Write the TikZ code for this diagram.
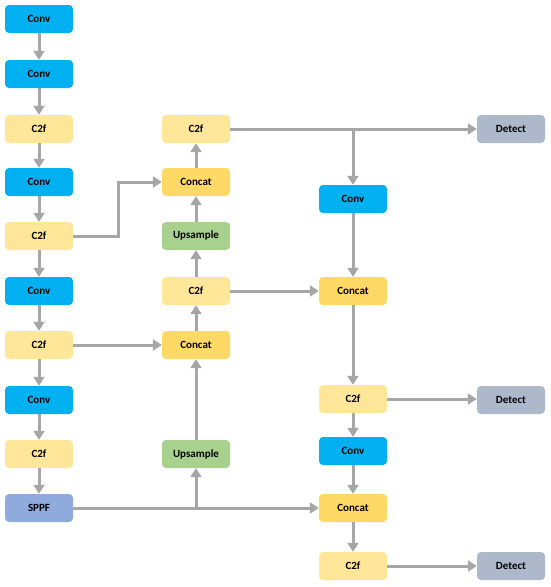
\documentclass[tikz,border=0pt]{standalone}
\usepackage{fontspec}
\setmainfont{Carlito}
\usetikzlibrary{arrows.meta}
\definecolor{convc}{HTML}{00B0F0}
\definecolor{cfc}{HTML}{FFE699}
\definecolor{catc}{HTML}{FFD966}
\definecolor{upc}{HTML}{A9D18E}
\definecolor{sppfc}{HTML}{8FAADC}
\definecolor{detc}{HTML}{ADB9CA}
\definecolor{linec}{HTML}{A6A6A6}
\tikzset{
  blk/.style={rounded corners=4pt, minimum width=68pt, minimum height=28pt, inner sep=0pt, font=\fontsize{11}{13}\selectfont\bfseries, text=black},
  convb/.style={blk, fill=convc},
  cfb/.style={blk, fill=cfc},
  catb/.style={blk, fill=catc},
  upb/.style={blk, fill=upc},
  sppfb/.style={blk, fill=sppfc},
  detb/.style={blk, fill=detc},
  ln/.style={draw=linec, line width=3pt},
  arr/.style={ln, -{Triangle[length=9pt,width=11pt]}}
}
\begin{document}
\begin{tikzpicture}[x=1pt,y=-1pt]
\useasboundingbox (0,0) rectangle (550,587);
% column 1
\node[convb] (a1) at (39,19) {Conv};
\node[convb] (a2) at (39,74) {Conv};
\node[cfb] (a3) at (39,129) {C2f};
\node[convb] (a4) at (39,182) {Conv};
\node[cfb] (a5) at (39,236) {C2f};
\node[convb] (a6) at (39,291) {Conv};
\node[cfb] (a7) at (39,345) {C2f};
\node[convb] (a8) at (39,400) {Conv};
\node[cfb] (a9) at (39,454) {C2f};
\node[sppfb] (a10) at (39,508) {SPPF};
% column 2
\node[cfb] (b1) at (196,129) {C2f};
\node[catb] (b2) at (196,182) {Concat};
\node[upb] (b3) at (196,236) {Upsample};
\node[cfb] (b4) at (196,291) {C2f};
\node[catb] (b5) at (196,345) {Concat};
\node[upb] (b6) at (196,454) {Upsample};
% column 3
\node[convb] (c1) at (353,199) {Conv};
\node[catb] (c2) at (353,291) {Concat};
\node[cfb] (c3) at (353,399) {C2f};
\node[convb] (c4) at (353,451) {Conv};
\node[catb] (c5) at (353,508) {Concat};
\node[cfb] (c6) at (353,566) {C2f};
% detect
\node[detb] (d1) at (511,129) {Detect};
\node[detb] (d2) at (511,400) {Detect};
\node[detb] (d3) at (511,566) {Detect};
% coordinates
\coordinate (k1) at (118,236);
\coordinate (k2) at (196,508);
\coordinate (k3) at (353,129);
% column 1 arrows
\draw[arr] (a1) -- (a2);
\draw[arr] (a2) -- (a3);
\draw[arr] (a3) -- (a4);
\draw[arr] (a4) -- (a5);
\draw[arr] (a5) -- (a6);
\draw[arr] (a6) -- (a7);
\draw[arr] (a7) -- (a8);
\draw[arr] (a8) -- (a9);
\draw[arr] (a9) -- (a10);
% laterals
\draw[arr] (a5.east) -- (k1) |- (b2.west);
\draw[arr] (a7.east) -- (b5.west);
\draw[arr] (a10.east) -- (c5.west);
\draw[arr] (k2) -- (b6.south);
% column 2
\draw[arr] (b6) -- (b5);
\draw[arr] (b5) -- (b4);
\draw[arr] (b4) -- (b3);
\draw[arr] (b3) -- (b2);
\draw[arr] (b2) -- (b1);
\draw[arr] (b4.east) -- (c2.west);
\draw[arr] (b1.east) -- (d1.west);
\draw[arr] (k3) -- (c1.north);
% column 3
\draw[arr] (c1) -- (c2);
\draw[arr] (c2) -- (c3);
\draw[arr] (c3) -- (c4);
\draw[arr] (c4) -- (c5);
\draw[arr] (c5) -- (c6);
\draw[arr] (c3.east) -- (c3.east -| d2.west);
\draw[arr] (c6.east) -- (d3.west);
\end{tikzpicture}
\end{document}
